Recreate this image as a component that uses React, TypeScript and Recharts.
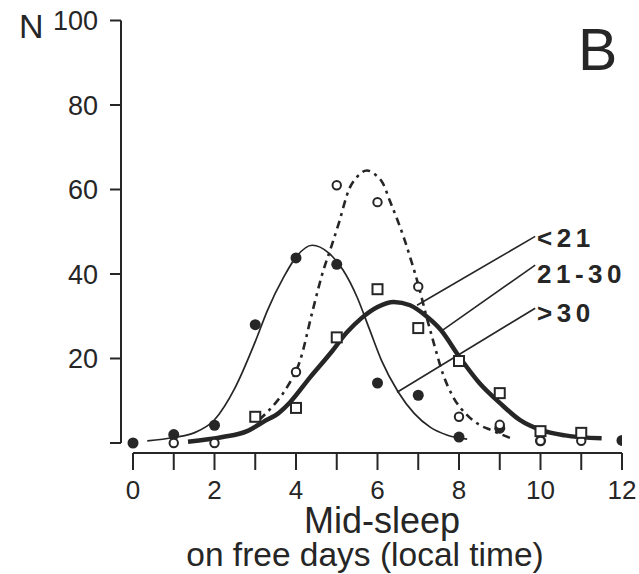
import React from 'react';
import { ComposedChart, Line, Scatter, XAxis, YAxis, ReferenceLine } from 'recharts';

const FONT = '"Liberation Sans", Arial, Helvetica, sans-serif';
const INK = '#262626';

const xTicks = [0, 1, 2, 3, 4, 5, 6, 7, 8, 9, 10, 11, 12];
const yTicks = [0, 20, 40, 60, 80, 100];
const xMin = -0.2945;
const yMin = -2.37;

// observed points
const over30Points = [
  { x: 0, y: 0 }, { x: 1, y: 2 }, { x: 2, y: 4.2 }, { x: 3, y: 28 }, { x: 4, y: 43.8 },
  { x: 5, y: 42.3 }, { x: 6, y: 14.2 }, { x: 7, y: 11.3 }, { x: 8, y: 1.4 }, { x: 9, y: 3.5 },
  { x: 10, y: 0.5 }, { x: 12, y: 0.6 },
];
const age21to30Points = [
  { x: 1, y: 0 }, { x: 2, y: 0 }, { x: 4, y: 16.8 }, { x: 5, y: 61 }, { x: 6, y: 57 },
  { x: 7, y: 37 }, { x: 8, y: 6.2 }, { x: 9, y: 4.3 }, { x: 10, y: 0.5 }, { x: 11, y: 0.5 },
];
const under21Points = [
  { x: 3, y: 6.2 }, { x: 4, y: 8.3 }, { x: 5, y: 25 }, { x: 6, y: 36.4 }, { x: 7, y: 27.2 },
  { x: 8, y: 19.4 }, { x: 9, y: 11.8 }, { x: 10, y: 2.8 }, { x: 11, y: 2.4 },
];

// fitted curves
const over30Curve = [
  { x: 0.35, y: 0.5 }, { x: 1.0, y: 1.3 }, { x: 1.5, y: 2.4 }, { x: 2.0, y: 5.5 }, { x: 2.5, y: 13 },
  { x: 3.0, y: 24 }, { x: 3.3, y: 31.4 }, { x: 3.7, y: 39.3 }, { x: 4.0, y: 44 }, { x: 4.4, y: 46.8 },
  { x: 4.8, y: 45 }, { x: 5.15, y: 41 }, { x: 5.5, y: 34.5 }, { x: 5.8, y: 27 }, { x: 6.1, y: 19.5 },
  { x: 6.5, y: 12.2 }, { x: 6.9, y: 7 }, { x: 7.3, y: 3.7 }, { x: 7.7, y: 1.9 }, { x: 8.2, y: 0.9 },
];
const age21to30Curve = [
  { x: 3.1, y: 5.5 }, { x: 3.5, y: 9.5 }, { x: 3.8, y: 13.5 }, { x: 4.1, y: 19.5 }, { x: 4.4, y: 31 },
  { x: 4.66, y: 40.5 }, { x: 4.85, y: 46 }, { x: 5.05, y: 52 }, { x: 5.3, y: 60 }, { x: 5.5, y: 63 },
  { x: 5.74, y: 64.5 }, { x: 5.95, y: 63.5 }, { x: 6.13, y: 61.5 }, { x: 6.3, y: 57.4 }, { x: 6.48, y: 53 },
  { x: 6.65, y: 48.5 }, { x: 6.8, y: 44 }, { x: 7.0, y: 37.5 }, { x: 7.2, y: 30 }, { x: 7.4, y: 23 },
  { x: 7.6, y: 16.5 }, { x: 7.85, y: 11 }, { x: 8.2, y: 6.6 }, { x: 8.5, y: 4.3 }, { x: 8.8, y: 3 },
  { x: 9.25, y: 1.2 },
];
const under21Curve = [
  { x: 1.35, y: 0.3 }, { x: 2.2, y: 1.4 }, { x: 2.8, y: 2.8 }, { x: 3.2, y: 5 }, { x: 3.6, y: 7.3 },
  { x: 3.85, y: 9.6 }, { x: 4.35, y: 15.6 }, { x: 4.85, y: 21.3 }, { x: 5.25, y: 26.2 }, { x: 5.6, y: 29.5 },
  { x: 6.0, y: 32.2 }, { x: 6.4, y: 33.4 }, { x: 6.8, y: 32.6 }, { x: 7.2, y: 30 }, { x: 7.55, y: 26.8 },
  { x: 8.0, y: 20.5 }, { x: 8.5, y: 14.2 }, { x: 9.0, y: 9.5 }, { x: 9.5, y: 5.4 }, { x: 10.0, y: 3.1 },
  { x: 10.6, y: 1.8 }, { x: 11.5, y: 1.1 },
];

// leader lines for the group labels
const groupLabels = ['<21', '21-30', '>30'];
const leaderStarts = [{ x: 9.87, y: 48.9 }, { x: 9.87, y: 42.1 }, { x: 9.87, y: 31.9 }];
const leaderEnds = [{ x: 6.97, y: 32.6 }, { x: 7.6, y: 26.7 }, { x: 6.48, y: 12 }];
const labelBaselines = [247, 283, 322];

const FilledDot = (p: any) => <circle cx={p.cx} cy={p.cy} r={5.5} fill={INK} />;
const OpenDot = (p: any) => (
  <circle cx={p.cx} cy={p.cy} r={4.2} fill="#fff" stroke={INK} strokeWidth={2} />
);
const OpenSquare = (p: any) => (
  <rect x={p.cx - 5} y={p.cy - 5} width={10} height={10} fill="#fff" stroke={INK} strokeWidth={2} />
);

export default function App() {
  return (
    <div style={{ position: 'absolute', left: 0, top: 0, width: 639, height: 574, background: '#fff', overflow: 'hidden' }}>
      <ComposedChart width={639} height={574} margin={{ top: 20.5, right: 17, left: 0, bottom: 61 }}>
        <XAxis
          type="number"
          dataKey="x"
          domain={[xMin, 12]}
          ticks={xTicks}
          interval={0}
          allowDataOverflow
          tickFormatter={(v: number) => (v % 2 === 0 ? String(v) : '')}
          height={60}
          axisLine={false}
          tickSize={17}
          tickMargin={11}
          tickLine={{ stroke: INK, strokeWidth: 2 }}
          tick={{ fill: INK, fontSize: 26, fontFamily: FONT }}
        />
        <YAxis
          type="number"
          dataKey="y"
          domain={[yMin, 100]}
          ticks={yTicks}
          interval={0}
          allowDataOverflow
          tickFormatter={(v: number) => (v === 0 ? '' : String(v))}
          width={121}
          axisLine={false}
          tickSize={11}
          tickMargin={12}
          tickLine={{ stroke: INK, strokeWidth: 2 }}
          tick={{ fill: INK, fontSize: 27, fontFamily: FONT }}
        />
        <ReferenceLine segment={[{ x: xMin, y: 0 }, { x: xMin, y: 100 }]} stroke={INK} strokeWidth={2} ifOverflow="visible" />
        <ReferenceLine segment={[{ x: 0, y: yMin }, { x: 12, y: yMin }]} stroke={INK} strokeWidth={2} ifOverflow="visible" />
        {groupLabels.map((g, i) => (
          <ReferenceLine key={g} segment={[leaderStarts[i], leaderEnds[i]]} stroke={INK} strokeWidth={1.6} ifOverflow="visible" />
        ))}
        <Line data={over30Curve} dataKey="y" type="monotone" dot={false} stroke={INK} strokeWidth={1.7} isAnimationActive={false} />
        <Line data={age21to30Curve} dataKey="y" type="monotone" dot={false} stroke={INK} strokeWidth={2.6} strokeDasharray="8 5 3 5" isAnimationActive={false} />
        <Line data={under21Curve} dataKey="y" type="monotone" dot={false} stroke={INK} strokeWidth={4.5} isAnimationActive={false} />
        <Scatter data={over30Points} dataKey="y" shape={FilledDot} isAnimationActive={false} />
        <Scatter data={age21to30Points} dataKey="y" shape={OpenDot} isAnimationActive={false} />
        <Scatter data={under21Points} dataKey="y" shape={OpenSquare} isAnimationActive={false} />
      </ComposedChart>
      <svg width={639} height={574} style={{ position: 'absolute', left: 0, top: 0, pointerEvents: 'none' }}>
        <text x={19} y={38} fontSize={34} fontFamily={FONT} fill={INK}>N</text>
        <text x={578} y={70} fontSize={59} fontFamily={FONT} fill={INK}>B</text>
        {groupLabels.map((g, i) => (
          <text key={g} x={537} y={labelBaselines[i]} fontSize={26} fontWeight="bold" letterSpacing={4.5} fontFamily={FONT} fill={INK}>
            {g}
          </text>
        ))}
        <text x={382} y={533} fontSize={36} textAnchor="middle" fontFamily={FONT} fill={INK}>Mid-sleep</text>
        <text x={365} y={566} fontSize={33.5} textAnchor="middle" fontFamily={FONT} fill={INK}>on free days (local time)</text>
      </svg>
    </div>
  );
}
